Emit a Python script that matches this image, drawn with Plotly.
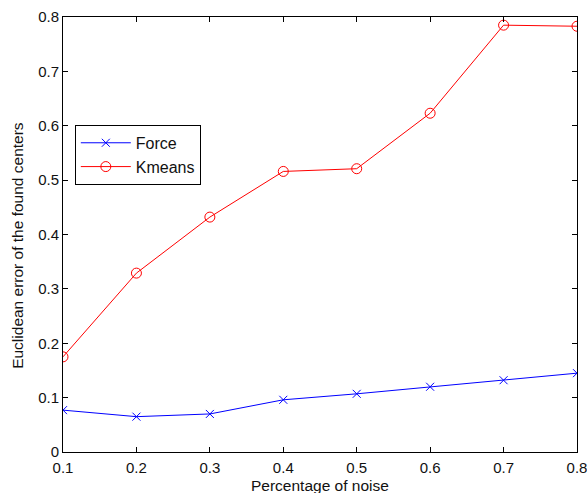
import plotly.graph_objects as go

# Noise levels and the error of each clustering method
noise = [0.1, 0.2, 0.3, 0.4, 0.5, 0.6, 0.7, 0.8]
force_err = [0.077, 0.065, 0.070, 0.096, 0.107, 0.120, 0.132, 0.145]
kmeans_err = [0.175, 0.329, 0.432, 0.516, 0.521, 0.623, 0.785, 0.783]

x_ticks = [0.1, 0.2, 0.3, 0.4, 0.5, 0.6, 0.7, 0.8]
y_ticks = [0, 0.1, 0.2, 0.3, 0.4, 0.5, 0.6, 0.7, 0.8]
y_tick_text = ["0", "0.1", "0.2", "0.3", "0.4", "0.5", "0.6", "0.7", "0.8"]

fig = go.Figure()
fig.add_trace(go.Scatter(
    x=noise, y=force_err, name="Force", mode="lines+markers",
    line=dict(color="#0000ff", width=1),
    marker=dict(symbol="x-thin-open", size=8, line=dict(color="#0000ff", width=1)),
))
fig.add_trace(go.Scatter(
    x=noise, y=kmeans_err, name="Kmeans", mode="lines+markers",
    line=dict(color="#ff0000", width=1),
    marker=dict(symbol="circle-open", size=10, color="#ff0000", line=dict(width=1)),
))

font = dict(family="Liberation Sans, Arial, sans-serif", color="#111")
fig.update_layout(
    width=587, height=493,
    margin=dict(l=63, r=10, t=17, b=41, autoexpand=False),
    paper_bgcolor="white", plot_bgcolor="white",
    font=dict(size=15, **font),
    showlegend=True,
    legend=dict(
        x=0.023, y=0.752, xanchor="left", yanchor="top",
        bordercolor="black", borderwidth=1, bgcolor="white",
        font=dict(size=16, **font), tracegroupgap=0, itemwidth=50,
    ),
    annotations=[
        dict(
            text="Euclidean error of the found centers",
            xref="paper", yref="paper", x=-0.0875, y=0.474,
            xanchor="center", yanchor="middle", textangle=-90,
            showarrow=False, font=dict(size=15.5, **font),
        ),
        dict(
            text="Percentage of noise",
            xref="paper", yref="paper", x=0.5, y=-0.078,
            xanchor="center", yanchor="middle",
            showarrow=False, font=dict(size=15.5, **font),
        ),
    ],
)
fig.update_xaxes(
    range=[0.1, 0.8], tickvals=x_ticks, ticktext=[str(v) for v in x_ticks],
    ticks="inside", ticklen=5, tickcolor="black", ticklabelstandoff=2,
    ticklabeloverflow="allow",
    showline=True, linecolor="black", linewidth=1, mirror="ticks",
    showgrid=False, zeroline=False, automargin=False,
    tickfont=dict(size=15, **font),
)
fig.update_yaxes(
    range=[0, 0.8], tickvals=y_ticks, ticktext=y_tick_text,
    ticks="inside", ticklen=5, tickcolor="black",
    ticklabeloverflow="allow",
    showline=True, linecolor="black", linewidth=1, mirror="ticks",
    showgrid=False, zeroline=False, automargin=False,
    tickfont=dict(size=15, **font),
)

fig.write_html("out.html")
